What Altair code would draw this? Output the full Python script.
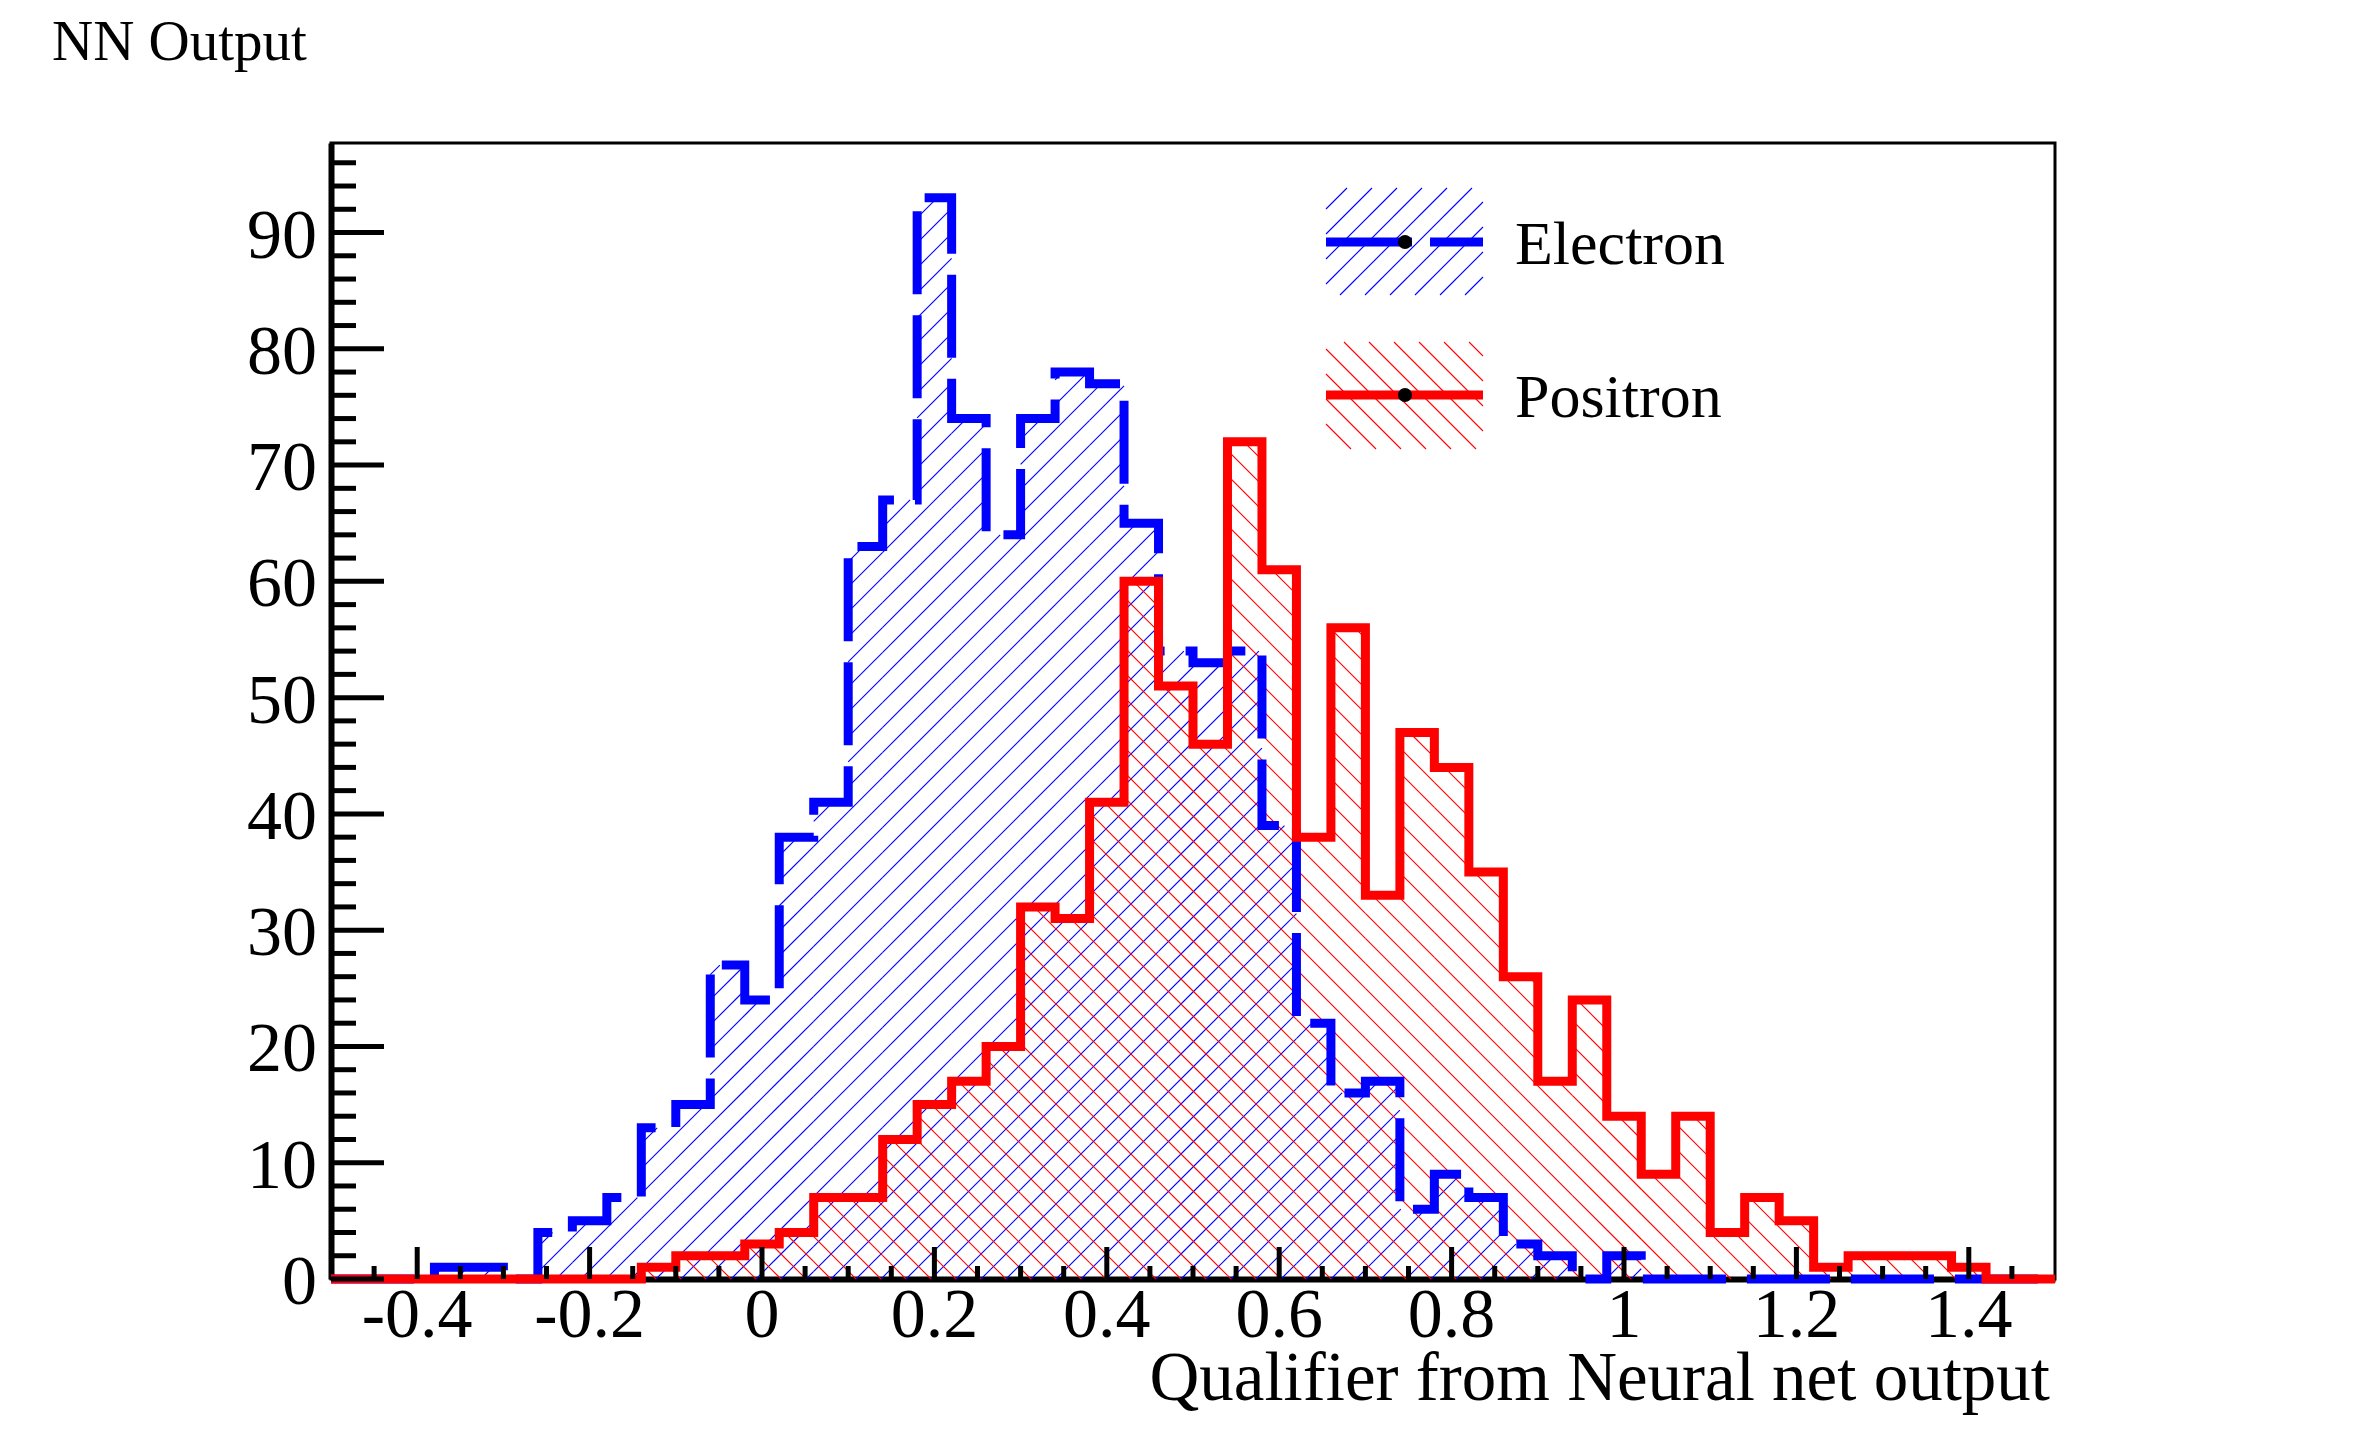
import altair as alt
import numpy as np
import pandas as pd

# ---------------- data ----------------
BIN_LO = -0.5
BIN_W = 0.04
electron = [0, 0, 0, 1, 1, 0, 4, 5, 7, 13,
            15, 27, 24, 38, 41, 63, 67, 93, 74, 64,
            74, 78, 77, 65, 54, 53, 54, 39, 22, 16,
            17, 6, 9, 7, 3, 2, 0, 2, 0, 0,
            0, 0, 0, 0, 0, 0, 0, 0, 0, 0]
positron = [0, 0, 0, 0, 0, 0, 0, 0, 0, 1,
            2, 2, 3, 4, 7, 7, 12, 15, 17, 20,
            32, 31, 41, 60, 51, 46, 72, 61, 38, 56,
            33, 47, 44, 35, 26, 17, 24, 14, 9, 14,
            4, 7, 5, 1, 2, 2, 2, 1, 0, 0]
series_names = ["Electron", "Positron"]
series_colors = ["#0000ff", "#ff0000"]

x_major = [-0.4, -0.2, 0.0, 0.2, 0.4, 0.6, 0.8, 1.0, 1.2, 1.4]
x_labels = ["-0.4", "-0.2", "0", "0.2", "0.4", "0.6", "0.8", "1", "1.2", "1.4"]
x_minor = [-0.45, -0.35, -0.3, -0.25, -0.15, -0.1, -0.05, 0.05, 0.1, 0.15,
           0.25, 0.3, 0.35, 0.45, 0.5, 0.55, 0.65, 0.7, 0.75, 0.85, 0.9,
           0.95, 1.05, 1.1, 1.15, 1.25, 1.3, 1.35, 1.45]
y_major = [0, 10, 20, 30, 40, 50, 60, 70, 80, 90]
y_labels = ["0", "10", "20", "30", "40", "50", "60", "70", "80", "90"]
y_minor = [v for v in range(2, 97, 2) if v % 10 != 0]

# ---------------- layout ----------------
W, H = 1724, 1136
XMIN, XMAX, YMAX = -0.5, 1.5, 97.7
SX = W / (XMAX - XMIN)
SY = H / YMAX
HATCH = 25.0
FONT = "Liberation Serif"

edges = [BIN_LO + BIN_W * i for i in range(len(electron) + 1)]


def hatch(rects, slope):
    """rects in pixel coords (x from left, y up from bottom); returns data-unit segments"""
    rows = []
    for (a, b, p, q) in rects:
        if q <= p or b <= a:
            continue
        if slope > 0:
            kmin = int(np.floor((a - q) / HATCH)) - 1
            kmax = int(np.ceil((b - p) / HATCH)) + 1
            for k in range(kmin, kmax + 1):
                c = k * HATCH
                lo, hi = max(a, c + p), min(b, c + q)
                if hi - lo > 0.3:
                    rows.append((lo, lo - c, hi, hi - c))
        else:
            kmin = int(np.floor((a + p) / HATCH)) - 1
            kmax = int(np.ceil((b + q) / HATCH)) + 1
            for k in range(kmin, kmax + 1):
                c = k * HATCH
                lo, hi = max(a, c - q), min(b, c - p)
                if hi - lo > 0.3:
                    rows.append((lo, c - lo, hi, c - hi))
    df = pd.DataFrame(rows, columns=["X", "Y", "X2", "Y2"])
    return pd.DataFrame({
        "x": XMIN + df["X"] / SX, "y": df["Y"] / SY,
        "x2": XMIN + df["X2"] / SX, "y2": df["Y2"] / SY,
    })


def bin_rects(vals):
    return [((edges[i] - XMIN) * SX, (edges[i + 1] - XMIN) * SX, 0.0, v * SY)
            for i, v in enumerate(vals)]


# legend geometry (pixels, relative to plot top-left)
LEG_X0, LEG_X1 = 995, 1152
LEG_TOP = [45, 199]
LEG_BOT = [152, 306]
LEG_LINE = [99, 252]
LEG_TEXT = [121, 274]
LEG_DOT_X = 1074
LEG_TEXT_X = 1184

xs = alt.Scale(domain=[XMIN, XMAX], nice=False, zero=False)
ys = alt.Scale(domain=[0, YMAX], nice=False, zero=False)
xaxis = alt.Axis(labels=False, ticks=False, grid=False, title=None,
                 domainColor="black", domainWidth=6)
yaxis = alt.Axis(labels=False, ticks=False, grid=False, title=None,
                 domainColor="black", domainWidth=6)

layers = []

# hatch fills
for vals, col, slope, k in [(electron, series_colors[0], 1, 0), (positron, series_colors[1], -1, 1)]:
    rects = bin_rects(vals)
    rects.append((LEG_X0, LEG_X1, H - LEG_BOT[k], H - LEG_TOP[k]))
    hd = hatch(rects, slope)
    layers.append(
        alt.Chart(hd).mark_rule(color=col, strokeWidth=1.1).encode(
            x=alt.X("x:Q", scale=xs, axis=xaxis),
            x2="x2:Q",
            y=alt.Y("y:Q", scale=ys, axis=yaxis),
            y2="y2:Q",
        )
    )

# histogram outlines
for vals, col, dash in [(electron, series_colors[0], [83, 21]), (positron, series_colors[1], None)]:
    d = pd.DataFrame({"x": edges, "v": list(vals) + [vals[-1]]})
    kw = dict(interpolate="step-after", color=col, strokeWidth=9,
              strokeCap="butt", strokeJoin="miter")
    if dash:
        kw["strokeDash"] = dash
    layers.append(
        alt.Chart(d).mark_line(**kw).encode(
            x=alt.X("x:Q", scale=xs, axis=xaxis),
            y=alt.Y("v:Q", scale=ys, axis=yaxis),
        )
    )

# inward ticks
for vals, length in [(x_major, 32), (x_minor, 13)]:
    layers.append(
        alt.Chart(pd.DataFrame({"v": vals})).mark_rule(color="black", strokeWidth=5).encode(
            x=alt.X("v:Q", scale=xs, axis=xaxis),
            y=alt.value(H), y2=alt.value(H - length),
        )
    )
for vals, length in [(y_major, 53), (y_minor, 25)]:
    layers.append(
        alt.Chart(pd.DataFrame({"v": vals})).mark_rule(color="black", strokeWidth=5).encode(
            y=alt.Y("v:Q", scale=ys, axis=yaxis),
            x=alt.value(0), x2=alt.value(length),
        )
    )

# tick labels
layers.append(
    alt.Chart(pd.DataFrame({"v": x_major, "lab": x_labels})).mark_text(
        font=FONT, fontSize=70, align="center", baseline="alphabetic", color="black"
    ).encode(x=alt.X("v:Q", scale=xs, axis=xaxis), y=alt.value(H + 58), text="lab:N")
)
layers.append(
    alt.Chart(pd.DataFrame({"v": y_major, "lab": y_labels})).mark_text(
        font=FONT, fontSize=70, align="right", baseline="alphabetic", dy=25, color="black"
    ).encode(y=alt.Y("v:Q", scale=ys, axis=yaxis), x=alt.value(-14), text="lab:N")
)

# axis title and canvas title
layers.append(
    alt.Chart(pd.DataFrame({"t": ["Qualifier from Neural net output"]})).mark_text(
        font=FONT, fontSize=69, align="right", baseline="alphabetic", color="black"
    ).encode(x=alt.value(W - 5), y=alt.value(H + 121), text="t:N")
)
layers.append(
    alt.Chart(pd.DataFrame({"t": ["NN Output"]})).mark_text(
        font=FONT, fontSize=57, align="left", baseline="alphabetic", color="black"
    ).encode(x=alt.value(-279), y=alt.value(-83), text="t:N")
)

# legend
for k, (name, col) in enumerate(zip(series_names, series_colors)):
    one = pd.DataFrame({"t": [name]})
    kw = dict(color=col, strokeWidth=9, strokeCap="butt")
    if k == 0:
        kw["strokeDash"] = [86, 18]
    layers.append(
        alt.Chart(one).mark_rule(**kw).encode(
            x=alt.value(LEG_X0), x2=alt.value(LEG_X1), y=alt.value(LEG_LINE[k])
        )
    )
    layers.append(
        alt.Chart(one).mark_point(filled=True, shape="circle", size=200, color="black", opacity=1).encode(
            x=alt.value(LEG_DOT_X), y=alt.value(LEG_LINE[k])
        )
    )
    layers.append(
        alt.Chart(one).mark_text(
            font=FONT, fontSize=62, align="left", baseline="alphabetic", color="black"
        ).encode(x=alt.value(LEG_TEXT_X), y=alt.value(LEG_TEXT[k]), text="t:N")
    )

chart = alt.layer(*layers).properties(
    width=W, height=H,
    padding={"left": 323, "top": 135, "right": 290, "bottom": 160},
    autosize=alt.AutoSizeParams(type="none"),
    background="white",
).configure_view(stroke="black", strokeWidth=3)

chart.save("out.html", embed_options={"renderer": "svg", "actions": False})
